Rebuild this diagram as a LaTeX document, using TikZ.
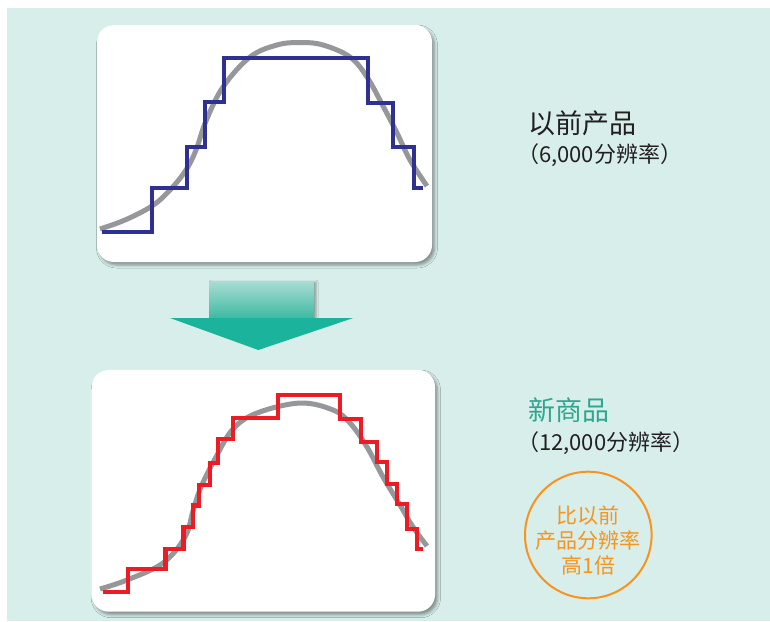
\documentclass[tikz,border=0pt]{standalone}
\usepackage{fontspec}
\setmainfont{Noto Sans CJK SC}
\usetikzlibrary{shadows.blur}
\definecolor{bgteal}{HTML}{D7EEEA}
\definecolor{curvegray}{HTML}{96979A}
\definecolor{stepblue}{HTML}{2E3192}
\definecolor{stepred}{HTML}{ED1C24}
\definecolor{arrowlight}{HTML}{A9DDD3}
\definecolor{arrowmid}{HTML}{3DB9A3}
\definecolor{arrowteal}{HTML}{1BB39B}
\definecolor{textdark}{HTML}{231F20}
\definecolor{textteal}{HTML}{2EA690}
\definecolor{badgeorange}{HTML}{F7941D}
\tikzset{
  panel/.style={fill=white, rounded corners=17pt,
    blur shadow={shadow xshift=2.5pt, shadow yshift=-3pt, shadow blur radius=3pt, shadow opacity=40}},
  curve/.style={draw=curvegray, line width=5pt},
  stairs/.style={line width=4.3pt, line join=miter, line cap=butt},
  bigtext/.style={anchor=west, inner sep=0pt, font=\fontsize{27}{27}\selectfont},
  restext/.style={anchor=west, inner sep=0pt, text=textdark, font=\fontsize{22}{22}\selectfont},
  badgetext/.style={align=center, inner sep=0pt, text=badgeorange, font=\fontsize{21}{25}\selectfont}
}
\begin{document}
\begin{tikzpicture}[x=1pt,y=-1pt]
\useasboundingbox (0,0) rectangle (770,621);
\fill[bgteal] (7,8) rectangle (770,621);

% top panel
\path[panel] (97,25) rectangle (432,262);
\draw[curve] plot[smooth, tension=0.6] coordinates {(100,229) (125,220) (152,206) (170,190) (186,170) (196,150) (206,121) (223,87) (250,57) (277,45) (300,42.5) (323,45) (350,57) (367,77) (383,106) (397,133) (410,160) (427,186)};
\draw[stairs, stepblue] (102,232) -| (152.3,187.7) -| (186.7,146.7) -| (205,101.7) -| (224.3,57.7) -| (368.3,103.3) -| (393.3,146.7) -| (414,188.3) -- (423.3,188.3);

% arrow
\shade[top color=arrowlight, bottom color=arrowmid,
  blur shadow={shadow xshift=2pt, shadow yshift=-1pt, shadow blur radius=2pt, shadow opacity=35}]
  (209.3,281) rectangle (314,318.5);
\fill[arrowteal] (170,318) -- (353.3,318) -- (258.3,350) -- cycle;

% bottom panel
\path[panel] (91.7,370) rectangle (435,611.7);
\draw[curve] plot[smooth, tension=0.6] coordinates {(100,589) (127,580) (163,563) (185,537) (193,511) (201,487) (216,457) (233,429) (257,413) (300,403) (333,410) (350,423) (367,447) (383,477) (400,505) (413,527) (427,546)};
\draw[stairs, stepred] (103.3,591.7) -| (128.3,569.3) -| (165.5,549.3) -| (183.5,526.7) -| (193,505.5) -| (199.3,485) -| (209.7,463.3) -| (218.3,439) -| (233.3,418.3) -| (277.7,394.7) -| (340,419) -| (361,442) -| (376.7,461.7) -| (387.3,484.2) -| (396.7,503.7) -| (407,528.7) -| (416.7,549.2) -- (423,549.2);

% texts
\node[bigtext, text=textdark] (oldname) at (528,123) {以前产品};
\node[restext] (oldres) at (517,155.5) {（6,000分辨率）};
\node[bigtext, text=textteal] (newname) at (528,410) {新商品};
\node[restext] (newres) at (517,443.5) {（12,000分辨率）};

\node[draw=badgeorange, line width=2pt, circle, minimum size=126.6pt, inner sep=0pt] (badge) at (588.3,535) {};
\node[badgetext] (badgetxt) at (588.3,540) {比以前\\产品分辨率\\高1倍};
\end{tikzpicture}
\end{document}
